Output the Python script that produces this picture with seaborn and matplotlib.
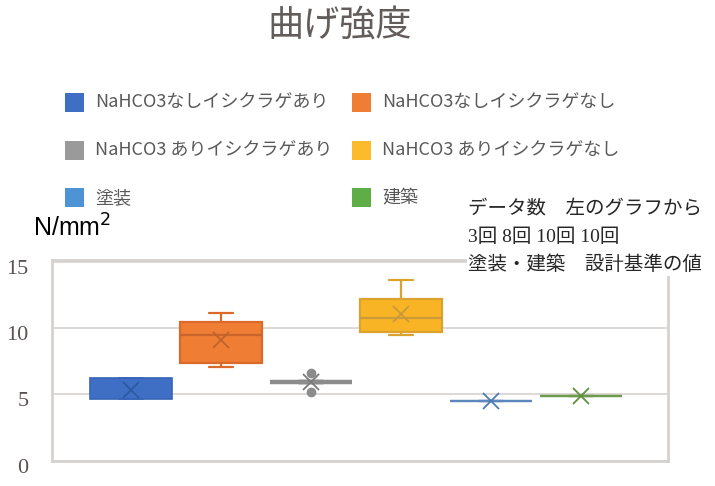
import numpy as np
import pandas as pd
import seaborn as sns
import matplotlib.pyplot as plt
from matplotlib.patches import Rectangle
from matplotlib.transforms import ScaledTranslation

W, H = 715, 486

# --- data ---
categories = ['NaHCO3なしイシクラゲあり', 'NaHCO3なしイシクラゲなし',
              'NaHCO3 ありイシクラゲあり', 'NaHCO3 ありイシクラゲなし', '塗装', '建築']
vals_blue = [4.66, 4.66, 4.85, 6.26, 6.26]
vals_orange = [7.07, 7.25, 7.45, 9.20, 9.78, 10.45, 10.61, 11.15]
vals_gray = [5.21, 5.96, 5.96, 5.96, 5.96, 5.96, 5.96, 5.96, 5.96, 6.60]
vals_yellow = [9.49, 9.60, 9.70, 9.86, 10.50, 11.00, 12.10, 12.20, 12.30, 13.64]
vals_paint = [4.53]
vals_build = [4.88]
y_ticks = [0, 5, 10, 15]

legend_colors = ['#3f6fc4', '#ef7d33', '#9a9a9a', '#fbbb2a', '#4d93d6', '#5fad47']
note_lines = ['データ数　左のグラフから', '3回 8回 10回 10回', '塗装・建築　設計基準の値']

# fill, edge, median, mean, linewidth
styles = [
    ('#3f6fc4', '#3664b8', '#3f6fc4', '#2c58a6', 1.2),
    ('#ef7d33', '#d96a2a', '#c9652c', '#c0622c', 1.6),
    ('#8c8c8c', '#8c8c8c', '#8c8c8c', '#7a7a7a', 3.2),
    ('#f8b424', '#dba22e', '#cc9a38', '#c9993a', 1.6),
    ('#5d88bd', '#5d88bd', '#5d88bd', '#4f7bb3', 1.6),
    ('#6c9b4b', '#6c9b4b', '#6c9b4b', '#5f8f40', 1.6),
]
all_vals = [vals_blue, vals_orange, vals_gray, vals_yellow, vals_paint, vals_build]

sns.set_theme(style='white')
plt.rcParams['font.family'] = ['Noto Sans CJK JP', 'DejaVu Sans']

fig = plt.figure(figsize=(W / 100, H / 100), dpi=100)
ax = fig.add_axes([52 / W, 1 - 460.7 / H, (667.7 - 52) / W, (460.7 - 260) / H])

for cat, vals, (fill, edge, med, mean, lw) in zip(categories, all_vals, styles):
    d = pd.DataFrame({'cat': cat, 'val': vals})
    sns.boxplot(data=d, x='cat', y='val', order=categories, ax=ax,
                color=fill, saturation=1, linecolor=edge, linewidth=lw,
                width=0.907, showmeans=True,
                meanprops=dict(marker='x', markeredgecolor=mean, markersize=11.5,
                               markeredgewidth=1.3),
                medianprops=dict(color=med, linewidth=1.6),
                flierprops=dict(marker='o', markerfacecolor=edge,
                                markeredgecolor=edge, markersize=6))

# shorter whisker caps, like the original
for ln in ax.lines:
    x = np.asarray(ln.get_xdata(), dtype=float)
    y = np.asarray(ln.get_ydata(), dtype=float)
    if len(x) == 2 and y[0] == y[1] and 0 < abs(x[1] - x[0]) < 0.6 and ln.get_linestyle() == '-':
        c = x.mean()
        ln.set_xdata([c - 0.135, c + 0.135])

ax.set_xlim(-0.875, 5.962)
ax.set_ylim(0, 15.15)
ax.set_xticks([])
ax.set_xlabel('')
ax.set_ylabel('')
ax.set_yticks(y_ticks)
ax.set_yticklabels([str(t) for t in y_ticks])
ax.tick_params(axis='y', length=0, pad=17, labelsize=16, labelcolor='#5a5352')
for lab in ax.get_yticklabels():
    lab.set_fontfamily('Liberation Serif')
    lab.set_transform(lab.get_transform() + ScaledTranslation(0, -0.05, fig.dpi_scale_trans))
ax.yaxis.grid(True, color='#d9d5d2', linewidth=1.3)
ax.set_axisbelow(True)
for s in ax.spines.values():
    s.set_visible(True)
    s.set_color('#d6d2cf')
    s.set_linewidth(2)

# title
fig.text(340 / W, 1 - 26 / H, '曲げ強度', ha='center', va='center',
         fontsize=26, color='#625c5a')

# legend (2 columns, 3 rows)
for i, (lab, col) in enumerate(zip(categories, legend_colors)):
    row, c = i // 2, i % 2
    x0 = [65, 352][c]
    yc = 103 + row * 47.5
    fig.add_artist(Rectangle((x0 / W, 1 - (yc + 9.5) / H), 19 / W, 19 / H,
                             transform=fig.transFigure, facecolor=col, edgecolor='none'))
    fig.text((x0 + 30) / W, 1 - yc / H, lab, ha='left', va='center',
             fontsize=13, color='#595959')

# unit label
fig.text(33 / W, 1 - 228 / H, 'N/mm$^2$', ha='left', va='center', fontsize=18,
         color='black', family=['Liberation Sans', 'DejaVu Sans'])

# note at right
for k, line in enumerate(note_lines):
    t = fig.text(468 / W, 1 - (209 + 28 * k) / H, line, ha='left', va='center',
                 fontsize=14, color='#262626',
                 family=['Liberation Serif', 'Noto Sans CJK JP'])
    if k == 2:
        t.set_bbox(dict(facecolor='white', edgecolor='none', pad=1))

fig.savefig('out.png', dpi=100)
